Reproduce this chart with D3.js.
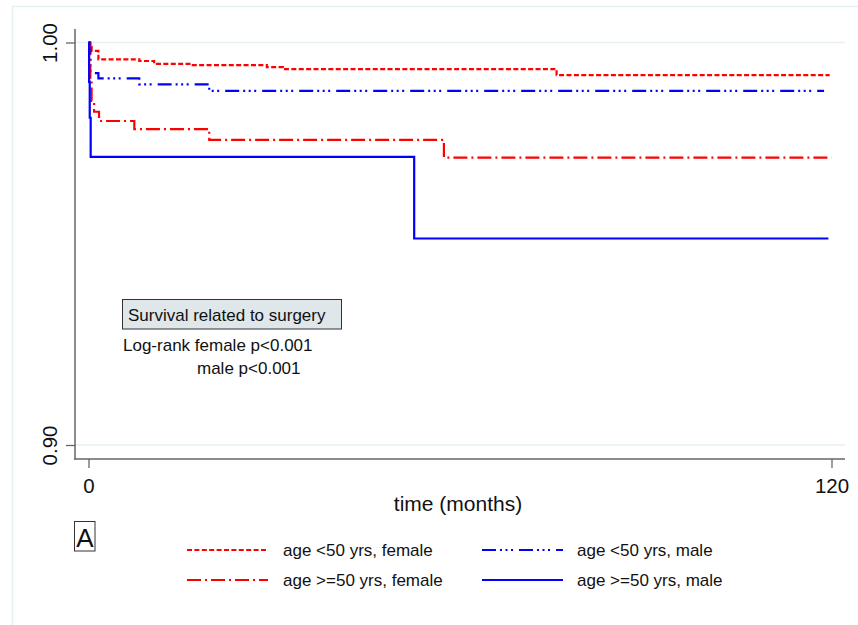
<!DOCTYPE html>
<html>
<head>
<meta charset="utf-8">
<script src="https://cdn.jsdelivr.net/npm/d3@7"></script>
<style>
  html, body { margin: 0; padding: 0; background: #ffffff; }
  svg { display: block; font-family: "Liberation Sans", Arial, Helvetica, sans-serif; }
</style>
</head>
<body>
<svg id="chart" width="858" height="625"></svg>
<script>
// ---- data ----
const seriesNames = ["age <50 yrs, female", "age <50 yrs, male", "age >=50 yrs, female", "age >=50 yrs, male"];

const timesF50 = [0, 0.2, 0.5, 1.6, 8.2, 10.6, 16.6, 28.8, 31.4, 75.6, 119.7];
const survF50  = [1.0, 0.9989, 0.9979, 0.9958, 0.9954, 0.9947, 0.9944, 0.9939, 0.9934, 0.9919, 0.9919];

const timesM50 = [0, 0.3, 1.6, 8.2, 19.5, 118.8];
const survM50  = [1.0, 0.9924, 0.9911, 0.9896, 0.9880, 0.9880];

const timesF50plus = [0, 0.15, 0.3, 0.5, 0.9, 1.7, 7.4, 19.5, 57.4, 120];
const survF50plus  = [1.0, 0.9957, 0.9907, 0.9855, 0.9828, 0.9805, 0.9785, 0.9758, 0.9714, 0.9714];

const timesM50plus = [0, 0.1, 0.2, 0.35, 52.6, 119.5];
const survM50plus  = [1.0, 0.9902, 0.9813, 0.9716, 0.9513, 0.9513];

const xTicks = [0, 120];
const yTicks = [0.90, 1.00];
const xTitle = "time (months)";
const boxTitle = "Survival related to surgery";
const noteLine1 = "Log-rank female p<0.001";
const noteLine2 = "male p<0.001";
const panelLabel = "A";

// ---- styles ----
const series = [
  { name: seriesNames[0], t: timesF50, s: survF50, color: "#ff0000", dash: "5,2.4" },
  { name: seriesNames[1], t: timesM50, s: survM50, color: "#0000ff", dash: "14,4,2,3.5,2,3.5,2,6" },
  { name: seriesNames[2], t: timesF50plus, s: survF50plus, color: "#ff0000", dash: "14,4,2,4" },
  { name: seriesNames[3], t: timesM50plus, s: survM50plus, color: "#0000ff", dash: null }
];

const svg = d3.select("#chart");

// outer frame
svg.append("rect").attr("x", 12.5).attr("y", 6.5).attr("width", 900).attr("height", 700)
  .attr("fill", "#ffffff").attr("stroke", "#e6eff1").attr("stroke-width", 1.5);

const x = d3.scaleLinear().domain([0, 120]).range([88.5, 831.5]);
const y = d3.scaleLinear().domain([0.90, 1.00]).range([445, 42.5]);

const plotLeft = 75, plotRight = 845, plotTop = 29, plotBottom = 459;

// gridlines
svg.append("g").selectAll("line").data(yTicks).join("line")
  .attr("x1", plotLeft).attr("x2", plotRight)
  .attr("y1", d => y(d)).attr("y2", d => y(d))
  .attr("stroke", "#e6eff1").attr("stroke-width", 1.6);

// y axis
const yAxis = d3.axisLeft(y).tickValues(yTicks).tickFormat(d3.format(".2f")).tickSize(9).tickSizeOuter(0);
const gy = svg.append("g").attr("transform", `translate(${plotLeft},0)`).call(yAxis);
gy.select(".domain").remove();
gy.selectAll(".tick line").attr("stroke", "#666").attr("stroke-width", 1.3);
gy.selectAll(".tick text")
  .attr("x", 0).attr("dy", null).attr("dx", null)
  .attr("transform", "translate(-18,0) rotate(-90)")
  .attr("text-anchor", "middle")
  .style("font-size", "20.5px").attr("fill", "#111");
svg.append("line").attr("x1", plotLeft).attr("x2", plotLeft).attr("y1", plotTop).attr("y2", plotBottom + 0.7)
  .attr("stroke", "#666").attr("stroke-width", 1.5);

// x axis
const xAxis = d3.axisBottom(x).tickValues(xTicks).tickFormat(d3.format("d")).tickSize(9).tickSizeOuter(0);
const gx = svg.append("g").attr("transform", `translate(0,${plotBottom})`).call(xAxis);
gx.select(".domain").remove();
gx.selectAll(".tick line").attr("stroke", "#666").attr("stroke-width", 1.3);
gx.selectAll(".tick text").attr("y", 34).attr("dy", null)
  .style("font-size", "20.5px").attr("fill", "#111");
svg.append("line").attr("x1", plotLeft - 0.7).attr("x2", plotRight).attr("y1", plotBottom).attr("y2", plotBottom)
  .attr("stroke", "#666").attr("stroke-width", 1.5);

// axis title
svg.append("text").attr("x", 458).attr("y", 511).attr("text-anchor", "middle")
  .style("font-size", "21px").attr("fill", "#111").text(xTitle);

// curves
const line = d3.line().curve(d3.curveStepAfter).x(d => x(d[0])).y(d => y(d[1]));
series.forEach(sr => {
  const pts = sr.t.map((t, i) => [t, sr.s[i]]);
  svg.append("path").attr("d", line(pts))
    .attr("fill", "none").attr("stroke", sr.color).attr("stroke-width", 2.2)
    .attr("stroke-dasharray", sr.dash);
});

// annotation box
svg.append("rect").attr("x", 122.5).attr("y", 299.5).attr("width", 219).attr("height", 29.5)
  .attr("fill", "#dfe7ea").attr("stroke", "#333").attr("stroke-width", 1);
svg.append("text").attr("x", 128).attr("y", 321).style("font-size", "17px").attr("fill", "#111").text(boxTitle);
svg.append("text").attr("x", 123).attr("y", 351).style("font-size", "17px").attr("fill", "#111").text(noteLine1);
svg.append("text").attr("x", 197).attr("y", 374).style("font-size", "17px").attr("fill", "#111").text(noteLine2);

// panel label
svg.append("rect").attr("x", 74.5).attr("y", 521.5).attr("width", 20.5).attr("height", 29.5)
  .attr("fill", "none").attr("stroke", "#333").attr("stroke-width", 1);
svg.append("text").attr("x", 84.8).attr("y", 547).attr("text-anchor", "middle")
  .style("font-size", "26px").attr("fill", "#111").text(panelLabel);

// legend
const legPos = [
  { lx: 187, tx: 283, y: 550 },
  { lx: 482, tx: 577, y: 550 },
  { lx: 187, tx: 283, y: 580 },
  { lx: 482, tx: 577, y: 580 }
];
const leg = svg.append("g");
series.forEach((sr, i) => {
  const p = legPos[i];
  leg.append("line").attr("x1", p.lx).attr("x2", p.lx + 81).attr("y1", p.y).attr("y2", p.y)
    .attr("stroke", sr.color).attr("stroke-width", 2.2).attr("stroke-dasharray", sr.dash);
  leg.append("text").attr("x", p.tx).attr("y", p.y + 6).style("font-size", "17px")
    .attr("fill", "#111").text(sr.name);
});
</script>
</body>
</html>
